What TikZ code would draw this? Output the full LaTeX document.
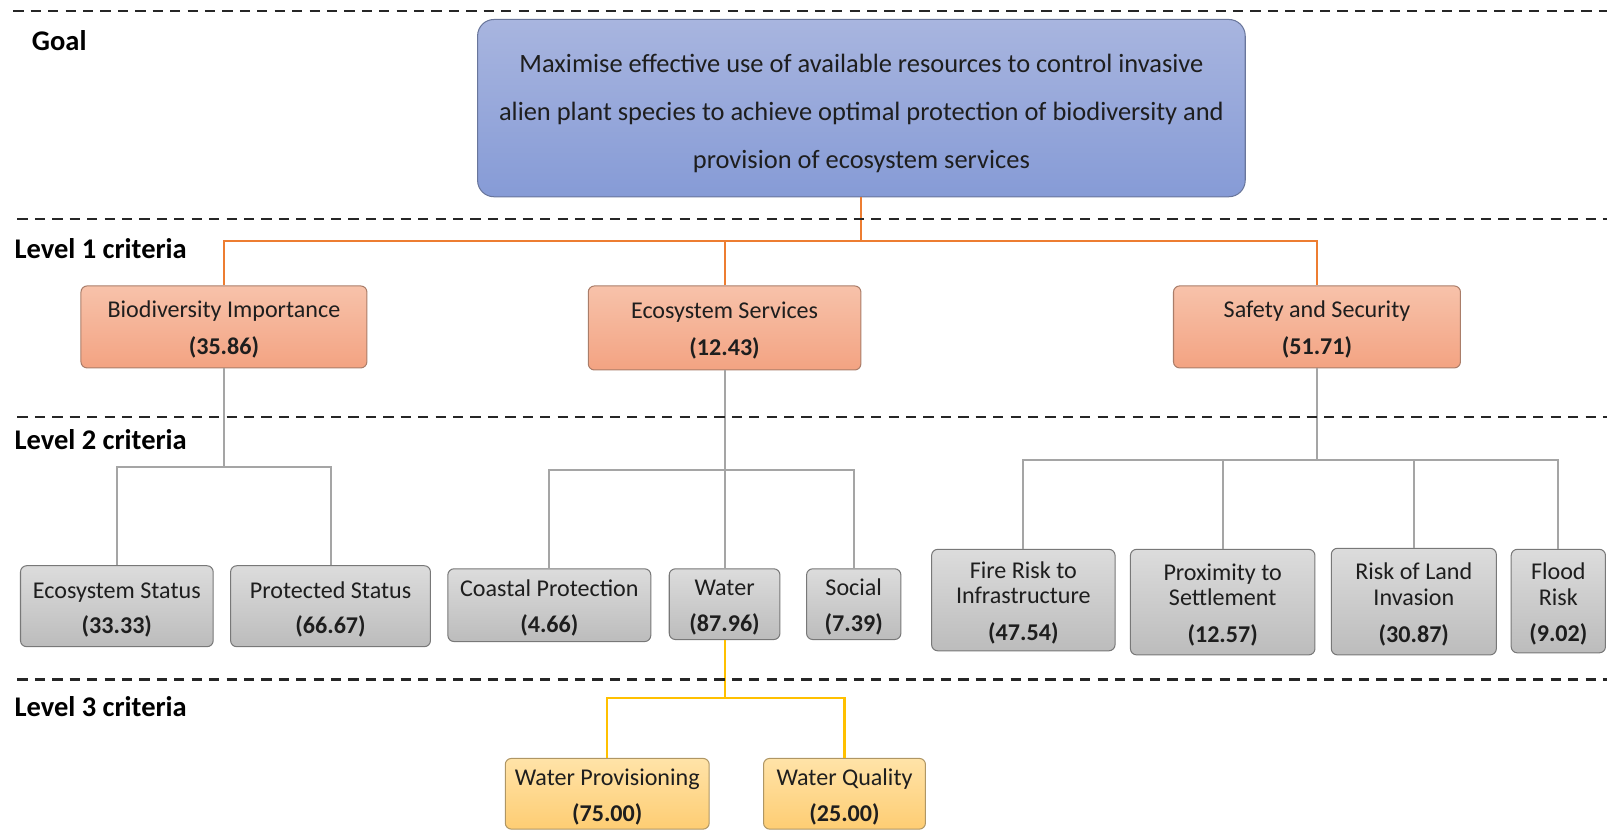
\documentclass[tikz,border=0pt]{standalone}
\usepackage{fontspec}
\usetikzlibrary{calc}
\setmainfont{Carlito}
\definecolor{goaltop}{RGB}{168,181,223}
\definecolor{goalbot}{RGB}{134,155,214}
\definecolor{goaledge}{RGB}{105,118,155}
\definecolor{lonetop}{RGB}{247,194,170}
\definecolor{lonebot}{RGB}{243,163,130}
\definecolor{loneedge}{RGB}{170,125,105}
\definecolor{ltwotop}{RGB}{220,220,220}
\definecolor{ltwobot}{RGB}{188,188,188}
\definecolor{ltwoedge}{RGB}{120,120,120}
\definecolor{lthreetop}{RGB}{255,227,168}
\definecolor{lthreebot}{RGB}{254,205,115}
\definecolor{lthreeedge}{RGB}{175,150,100}
\definecolor{orline}{RGB}{237,125,49}
\definecolor{grline}{RGB}{165,165,165}
\definecolor{yeline}{RGB}{255,192,0}
\definecolor{txt}{RGB}{30,30,30}
% invisible struts that lower the first line of a box a little
\newcommand\boxstrut{\rule{0pt}{22pt}}
\newcommand\goalstrut{\rule{0pt}{28pt}}
\begin{document}
\begin{tikzpicture}[x=1pt,y=-1pt,
  box/.style={draw, line width=1pt, rounded corners=6pt, inner sep=0pt,
    align=center, text=txt, font=\fontsize{23.5}{25}\selectfont},
  goalbox/.style={draw=goaledge, line width=1pt, rounded corners=16pt, inner sep=0pt,
    align=center, text=txt, top color=goaltop, bottom color=goalbot,
    font=\fontsize{25.8}{47}\selectfont},
  lonebox/.style={box, draw=loneedge, top color=lonetop, bottom color=lonebot},
  ltwobox/.style={box, draw=ltwoedge, top color=ltwotop, bottom color=ltwobot},
  lthreebox/.style={box, draw=lthreeedge, top color=lthreetop, bottom color=lthreebot},
  levellabel/.style={anchor=base west, inner sep=0pt, text=black,
    font=\fontsize{27.8}{30}\selectfont\bfseries},
  divider/.style={draw=black!85, line width=2pt, dash pattern=on 10pt off 7pt},
  orl/.style={draw=orline, line width=2pt},
  grl/.style={draw=grline, line width=2pt},
  yel/.style={draw=yeline, line width=2pt}]
\useasboundingbox (0,0) rectangle (1568,810);

% level labels
\node[levellabel] (lgoal) at (31,49) {Goal};
\node[levellabel] (lone) at (14,252) {Level 1 criteria};
\node[levellabel] (ltwo) at (14,439) {Level 2 criteria};
\node[levellabel] (lthree) at (14,699) {Level 3 criteria};

% goal
\node[goalbox, minimum width=749pt, minimum height=173pt] (goal) at (840.5,105.5)
  {\goalstrut Maximise effective use of available resources to control invasive\\
   alien plant species to achieve optimal protection of biodiversity and\\
   provision of ecosystem services};

% level 1
\node[lonebox, minimum width=279pt, minimum height=80pt] (bio) at (218.5,319)
  {\boxstrut Biodiversity Importance\\[11pt]\textbf{(35.86)}};
\node[lonebox, minimum width=266pt, minimum height=82pt] (eco) at (707,320)
  {\boxstrut Ecosystem Services\\[11pt]\textbf{(12.43)}};
\node[lonebox, minimum width=280pt, minimum height=80pt] (saf) at (1285,319)
  {\boxstrut Safety and Security\\[11pt]\textbf{(51.71)}};

% level 2
\node[ltwobox, minimum width=188pt, minimum height=79pt] (ecs) at (114,591.5)
  {\boxstrut Ecosystem Status\\[9pt]\textbf{(33.33)}};
\node[ltwobox, minimum width=195pt, minimum height=79pt] (prs) at (322.5,591.5)
  {\boxstrut Protected Status\\[9pt]\textbf{(66.67)}};
\node[ltwobox, minimum width=198pt, minimum height=71pt] (coa) at (536,590.5)
  {\boxstrut Coastal Protection\\[10pt]\textbf{(4.66)}};
\node[ltwobox, minimum width=108pt, minimum height=69pt] (wat) at (707,589.5)
  {\boxstrut Water\\[10pt]\textbf{(87.96)}};
\node[ltwobox, minimum width=92pt, minimum height=69pt] (soc) at (833,589.5)
  {\boxstrut Social\\[10pt]\textbf{(7.39)}};
\node[ltwobox, minimum width=179pt, minimum height=99pt] (fir) at (998.5,585.5)
  {\boxstrut Fire Risk to\\Infrastructure\\[11pt]\textbf{(47.54)}};
\node[ltwobox, minimum width=180pt, minimum height=103pt] (pro) at (1193,587.5)
  {\boxstrut Proximity to\\Settlement\\[11pt]\textbf{(12.57)}};
\node[ltwobox, minimum width=161pt, minimum height=104pt] (rsk) at (1379.5,587)
  {\boxstrut Risk of Land\\Invasion\\[11pt]\textbf{(30.87)}};
\node[ltwobox, minimum width=92pt, minimum height=101pt] (fld) at (1520.5,586.5)
  {\boxstrut Flood\\Risk\\[10pt]\textbf{(9.02)}};

% level 3
\node[lthreebox, minimum width=199pt, minimum height=69pt] (wpr) at (592.5,774.5)
  {\boxstrut Water Provisioning\\[10pt]\textbf{(75.00)}};
\node[lthreebox, minimum width=158pt, minimum height=69pt] (wqu) at (824,774.5)
  {\boxstrut Water Quality\\[10pt]\textbf{(25.00)}};

% goal to level 1
\draw[orl] (goal.south) -- ++(0,43) coordinate (jone);
\draw[orl] (bio.north) |- (jone) -| (saf.north);
\draw[orl] (eco.north) -- (eco.north |- jone);

% level 1 to level 2
\draw[grl] (bio.south) -- ++(0,96) coordinate (jbio);
\draw[grl] (ecs.north) |- (jbio) -| (prs.north);
\draw[grl] (eco.south) -- (wat.north);
\coordinate (jeco) at ($(eco.south)+(0,97)$);
\draw[grl] (coa.north) |- (jeco) -| (soc.north);
\draw[grl] (saf.south) -- ++(0,89) coordinate (jsaf);
\draw[grl] (fir.north) |- (jsaf) -| (fld.north);
\draw[grl] (pro.north) -- (pro.north |- jsaf);
\draw[grl] (rsk.north) -- (rsk.north |- jsaf);

% level 2 to level 3
\draw[yel] (wat.south) -- ++(0,57) coordinate (jwat);
\draw[yel] (wpr.north) |- (jwat) -| (wqu.north);

% dividers between the levels
\coordinate (dzero) at (13,11);   \coordinate (dzeroe) at (1568,11);
\coordinate (done) at (17,214);   \coordinate (donee) at (1568,214);
\coordinate (dtwo) at (17,407);   \coordinate (dtwoe) at (1568,407);
\coordinate (dthree) at (17,663); \coordinate (dthreee) at (1568,663);
\draw[divider] (dzero) -- (dzeroe);
\draw[divider] (done) -- (donee);
\draw[divider] (dtwo) -- (dtwoe);
\draw[divider] (dthree) -- (dthreee);
\end{tikzpicture}
\end{document}
